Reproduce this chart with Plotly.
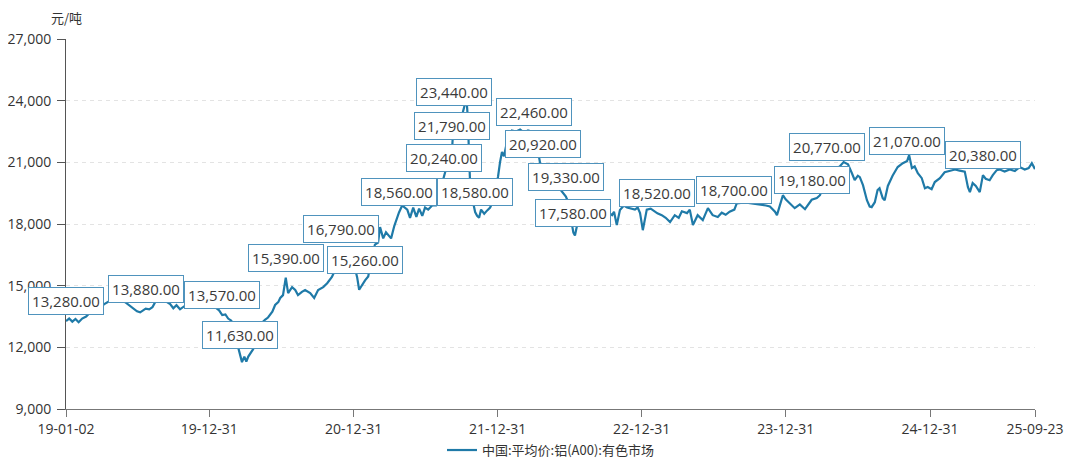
import pandas as pd
import plotly.graph_objects as go

# ---- data ----
start_date = "2019-01-02"
# days after the first observation
day_offsets = [
    0, 8, 16, 24, 32, 41, 51, 61, 74, 87, 97, 107, 122, 137, 150, 163, 173, 180, 188, 196,
    202, 211, 219, 226, 239, 252, 264, 272, 280, 289, 300, 320, 340, 360, 378, 388, 396, 404, 411, 419,
    426, 434, 441, 446, 452, 457, 462, 467, 474, 484, 497, 505, 512, 523, 530, 538, 543, 550, 557, 563,
    573, 581, 588, 598, 606, 619, 629, 639, 652, 662, 674, 682, 690, 696, 705, 720, 733, 738, 743, 750,
    758, 766, 773, 783, 791, 796, 804, 811, 816, 824, 832, 839, 844, 852, 865, 872, 880, 888, 895, 903,
    910, 918, 928, 938, 948, 957, 968, 979, 984, 989, 996, 1004, 1012, 1015, 1018, 1020, 1024, 1029, 1037, 1042,
    1047, 1052, 1060, 1067, 1075, 1082, 1090, 1095, 1100, 1105, 1110, 1115, 1120, 1130, 1141, 1151, 1161, 1171, 1179, 1187,
    1194, 1199, 1204, 1209, 1217, 1227, 1239, 1252, 1267, 1272, 1277, 1282, 1286, 1290, 1295, 1303, 1315, 1328, 1341, 1353,
    1366, 1379, 1384, 1389, 1396, 1404, 1414, 1422, 1432, 1442, 1449, 1455, 1462, 1467, 1472, 1482, 1492, 1499, 1510, 1520,
    1531, 1543, 1553, 1561, 1574, 1581, 1589, 1601, 1614, 1627, 1639, 1652, 1662, 1672, 1682, 1694, 1700, 1721, 1738, 1759,
    1774, 1784, 1789, 1797, 1802, 1809, 1817, 1824, 1834, 1847, 1860, 1873, 1890, 1903, 1911, 1921, 1928, 1939, 1951, 1961,
    1971, 1982, 1992, 1999, 2007, 2012, 2020, 2030, 2037, 2042, 2050, 2057, 2062, 2070, 2075, 2083, 2095, 2108, 2121, 2132,
    2137, 2144, 2151, 2159, 2169, 2177, 2184, 2194, 2202, 2215, 2227, 2240, 2253, 2265, 2278, 2286, 2291, 2298, 2306, 2316,
    2324, 2331, 2341, 2349, 2359, 2367, 2379, 2392, 2405, 2417, 2430, 2440, 2448, 2456,
]
prices = [
    13280, 13400, 13250, 13380, 13220, 13400, 13500, 13700, 13900, 13950, 14100, 14220, 14280, 14300, 14200, 14000, 13850, 13750, 13700, 13800,
    13880, 13850, 13950, 14200, 14300, 14250, 14100, 13900, 14050, 13850, 14000, 14100, 14000, 14050, 13950, 13800, 13570, 13600, 13400, 13300,
    12800, 12100, 11630, 11280, 11550, 11300, 11550, 11700, 11900, 12300, 13200, 13350, 13450, 13730, 14060, 14200, 14400, 14540, 15390, 14640,
    14930, 14790, 14540, 14700, 14790, 14640, 14400, 14790, 14930, 15120, 15420, 15760, 16300, 16790, 16600, 16400, 15800, 15400, 14800, 15050,
    15260, 15450, 16200, 17000, 17100, 17850, 17300, 17600, 17500, 17300, 17900, 18300, 18560, 18900, 18700, 18300, 18800, 18350, 18750, 18400,
    18800, 18700, 18900, 18900, 19300, 20240, 21000, 21790, 23440, 22900, 23100, 23300, 23900, 24100, 23300, 21800, 20100, 19300, 18580, 18400,
    18300, 18700, 18500, 18650, 18800, 19100, 19800, 20300, 21000, 21500, 21300, 21700, 22200, 22550, 22500, 22600, 22450, 22550, 22500, 22460,
    21800, 21300, 20700, 20920, 20600, 20300, 19900, 19700, 19330, 19100, 18600, 18000, 17580, 17440, 17900, 18300, 18600, 18500, 18700, 18400,
    18600, 18500, 18430, 18600, 17950, 18680, 18900, 18800, 18750, 18700, 18800, 18530, 17700, 18300, 18700, 18750, 18620, 18520, 18430, 18300,
    18090, 18430, 18300, 18620, 18530, 18700, 17950, 18430, 18190, 18770, 18430, 18340, 18550, 18450, 18600, 18700, 19000, 19050, 19000, 18950,
    18900, 18850, 18770, 18600, 18430, 18900, 19400, 19200, 19010, 18770, 18950, 18720, 19180, 19260, 19400, 19900, 20770, 20600, 20700, 20800,
    21010, 20900, 20470, 20130, 20350, 20280, 19890, 19160, 18850, 18820, 19060, 19650, 19740, 19260, 19160, 19850, 20350, 20770, 20960, 21070,
    21350, 20720, 20800, 20470, 20230, 19740, 19800, 19690, 20040, 20230, 20520, 20600, 20650, 20600, 20550, 19790, 19550, 19990, 19850, 19550,
    20380, 20200, 20130, 20380, 20620, 20650, 20550, 20650, 20580, 20770, 20650, 20720, 20960, 20670,
]
# observations that carry a value label
marked_offsets = [0, 202, 396, 441, 557, 696, 758, 844, 957, 979, 984, 1037,
                  1187, 1209, 1267, 1286, 1499, 1694, 1890, 1928, 2132, 2324]

tick_dates = ["2019-01-02", "2019-12-31", "2020-12-31", "2021-12-31",
              "2022-12-31", "2023-12-31", "2024-12-31", "2025-09-23"]
tick_labels = ["19-01-02", "19-12-31", "20-12-31", "21-12-31",
               "22-12-31", "23-12-31", "24-12-31", "25-09-23"]
y_ticks = [9000, 12000, 15000, 18000, 21000, 24000, 27000]

series_name = "中国:平均价:铝(A00):有色市场"
unit_label = "元/吨"

# ---- build ----
t0 = pd.Timestamp(start_date)
dates = [t0 + pd.Timedelta(days=d) for d in day_offsets]
lookup = dict(zip(day_offsets, prices))

LINE = "#1f7aa8"
FONT = "Open Sans, Noto Sans CJK SC, sans-serif"

fig = go.Figure()
fig.add_trace(go.Scatter(
    x=dates, y=prices, mode="lines", name=series_name,
    line=dict(color=LINE, width=2.2),
))

for d in marked_offsets:
    v = lookup[d]
    fig.add_annotation(
        x=t0 + pd.Timedelta(days=d), y=v, xref="x", yref="y",
        text=f"{v:,.2f}", showarrow=False, yanchor="bottom", yshift=6,
        width=68, height=20,
        font=dict(family=FONT, size=15, color="#3a3a3a"),
        bgcolor="white", bordercolor="#4f93bd", borderwidth=1, borderpad=3,
    )

fig.add_annotation(
    x=0, y=1.059, xref="paper", yref="paper", text=unit_label, showarrow=False,
    xanchor="center", yanchor="middle",
    font=dict(family="Noto Sans CJK SC, sans-serif", size=13, color="#333"),
)

# the page adds an 8px body margin around the figure
fig.update_layout(
    width=1075, height=453,
    margin=dict(l=58, r=48, t=31, b=52, autoexpand=False),
    paper_bgcolor="white", plot_bgcolor="white",
    font=dict(family=FONT, size=14, color="#333"),
    showlegend=True,
    legend=dict(orientation="h", x=0.5, xanchor="center", y=-0.111, yanchor="middle",
                font=dict(family="Noto Sans CJK SC, sans-serif", size=13, color="#333"),
                itemwidth=30),
)
fig.update_xaxes(
    type="date", range=[tick_dates[0], tick_dates[-1]],
    tickmode="array", tickvals=tick_dates, ticktext=tick_labels,
    showgrid=False, showline=True, linecolor="#777", linewidth=1,
    ticks="outside", ticklen=7, tickcolor="#777",
    tickfont=dict(family=FONT, size=14, color="#333"), zeroline=False,
    automargin=False,
)
fig.update_yaxes(
    range=[9000, 27000], tickmode="array", tickvals=y_ticks,
    tickformat=",d", showgrid=True, gridcolor="#e3e3e3", griddash="4px,4px",
    showline=True, linecolor="#555", linewidth=1,
    ticks="outside", ticklen=8, tickcolor="#555", ticklabelstandoff=3,
    tickfont=dict(family=FONT, size=14, color="#333"), zeroline=False,
    automargin=False,
)

fig.write_html("out.html")
